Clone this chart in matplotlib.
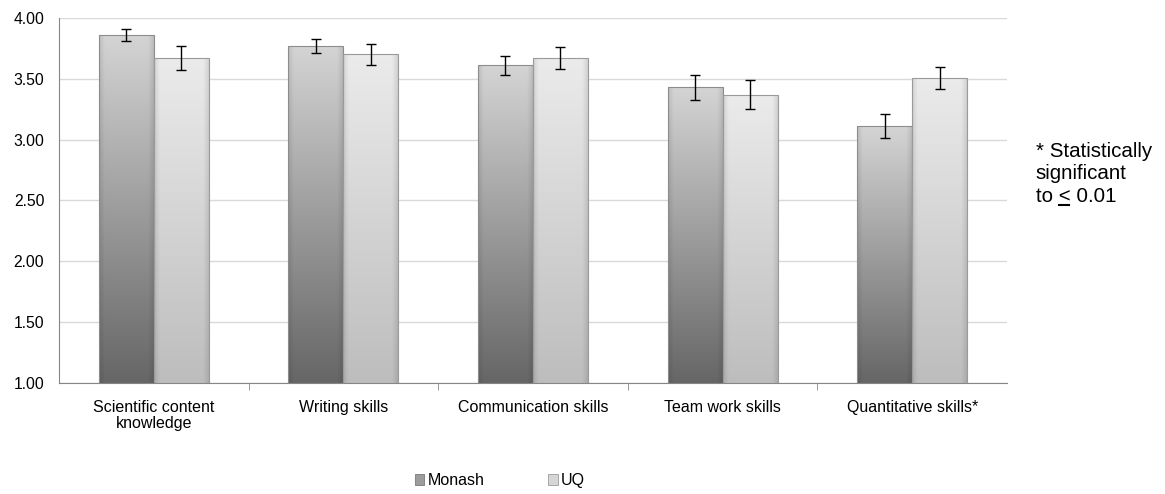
import matplotlib.pyplot as plt
import numpy as np
from matplotlib.colors import to_rgb
from matplotlib.patches import Patch
from matplotlib.lines import Line2D

plt.rcParams['font.family'] = ['Liberation Sans', 'DejaVu Sans']

categories = ['Scientific content\nknowledge', 'Writing skills', 'Communication skills',
              'Team work skills', 'Quantitative skills*']
monash = [3.86, 3.77, 3.61, 3.43, 3.11]
monash_err = [0.05, 0.06, 0.08, 0.10, 0.10]
uq = [3.67, 3.70, 3.67, 3.37, 3.51]
uq_err = [0.10, 0.09, 0.09, 0.12, 0.09]
note_lines = ['* Statistically', 'significant', 'to < 0.01']

YMIN, YMAX = 1.0, 4.0
width = 0.29


def gradient_fill(ax, bar, c_bottom, c_top):
    # vertical gradient with slightly darker side edges, clipped to the bar
    x0, y0 = bar.get_xy()
    w, h = bar.get_width(), bar.get_height()
    lo = max(y0, YMIN)
    t = np.linspace(0, 1, 200).reshape(-1, 1)
    cb, ct = np.array(to_rgb(c_bottom)), np.array(to_rgb(c_top))
    col = cb + (ct - cb) * t[..., None]
    s = np.linspace(-1, 1, 60)
    edge = 1 - 0.10 * np.clip((np.abs(s) - 0.8) / 0.2, 0, 1)
    img = col * edge[None, :, None]
    im = ax.imshow(np.clip(img, 0, 1), extent=[x0, x0 + w, lo, y0 + h], origin='lower',
                   aspect='auto', zorder=2, interpolation='bilinear')
    im.set_clip_path(bar)


fig = plt.figure(figsize=(11.65, 4.94), dpi=100)
ax = fig.add_axes([0.0506, 0.2247, 0.8138, 0.7389])

x = np.arange(len(categories))
b1 = ax.bar(x - width / 2, monash, width, facecolor='none', edgecolor='#8c8c8c', linewidth=0.8, zorder=3)
b2 = ax.bar(x + width / 2, uq, width, facecolor='none', edgecolor='#9a9a9a', linewidth=0.8, zorder=3)
for b in b1:
    gradient_fill(ax, b, '#666666', '#d4d4d4')
for b in b2:
    gradient_fill(ax, b, '#bdbdbd', '#ebebeb')

ax.errorbar(x - width / 2, monash, yerr=monash_err, fmt='none', ecolor='black',
            elinewidth=1, capsize=3.5, capthick=1, zorder=4)
ax.errorbar(x + width / 2, uq, yerr=uq_err, fmt='none', ecolor='black',
            elinewidth=1, capsize=3.5, capthick=1, zorder=4)

ax.set_xlim(-0.5, len(categories) - 0.5)
ax.set_ylim(YMIN, YMAX)
yt = np.arange(1.0, 4.01, 0.5)
ax.set_yticks(yt)
ax.set_yticklabels(['%.2f' % v for v in yt], fontsize=11.3)
ax.yaxis.grid(True, color='#d9d9d9', linewidth=1)
ax.set_axisbelow(True)
ax.tick_params(axis='y', length=0, pad=10.5)

ax.set_xticks(x)
ax.set_xticklabels(categories, fontsize=11.5, linespacing=1.15)
ax.set_xticks(np.arange(0.5, len(categories) - 1, 1), minor=True)
ax.tick_params(axis='x', which='major', length=0, pad=12)
ax.tick_params(axis='x', which='minor', length=5, color='#868686')

for side in ['top', 'right']:
    ax.spines[side].set_visible(False)
for side in ['left', 'bottom']:
    ax.spines[side].set_color('#868686')

# significance note, one line at a time
note_x = 0.889
note_y = [0.683, 0.638, 0.592]
for txt, yy in zip(note_lines, note_y):
    fig.text(note_x, yy, txt, fontsize=14.8, va='baseline', ha='left')

# underline under "<" to read as "less than or equal"
renderer = fig.canvas.get_renderer()
pre = fig.text(0, 0, 'to ', fontsize=14.8)
sym = fig.text(0, 0, '<', fontsize=14.8)
w_pre = pre.get_window_extent(renderer).width
w_sym = sym.get_window_extent(renderer).width
pre.remove()
sym.remove()
x0 = note_x * fig.bbox.width + w_pre
y0 = note_y[2] * fig.bbox.height - 3.5
fig.add_artist(Line2D([x0 + 1, x0 + w_sym - 1], [y0, y0], transform=None,
                      color='black', linewidth=1.5))

handles = [Patch(facecolor='#9c9c9c', edgecolor='#7a7a7a', linewidth=0.6),
           Patch(facecolor='#d6d6d6', edgecolor='#9a9a9a', linewidth=0.6)]
fig.legend(handles, ['Monash', 'UQ'], loc='center', bbox_to_anchor=(0.429, 0.027),
           ncol=2, frameon=False, fontsize=11.5, handlelength=0.6, handleheight=0.6,
           handletextpad=0.2, columnspacing=4.0)

fig.savefig('out.png', dpi=100)
